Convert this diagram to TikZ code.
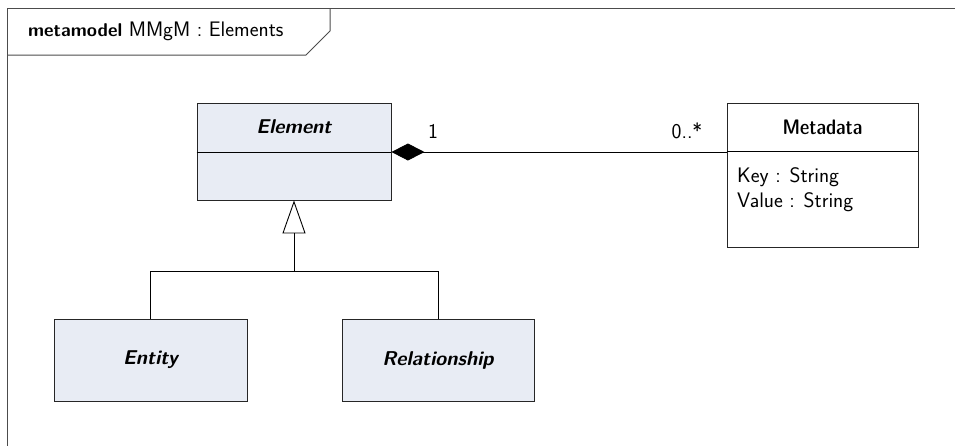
\documentclass[tikz,border=0pt]{standalone}
\usetikzlibrary{arrows.meta}
\begin{document}
\sffamily
\begin{tikzpicture}[x=1pt,y=-1pt,
  every node/.style={inner sep=0pt, font=\fontsize{21}{25}\selectfont\sffamily},
  heavy/.style={font=\fontsize{21}{25}\selectfont\sffamily\fontseries{sbc}\selectfont},
  abstractname/.style={font=\fontsize{20}{24}\selectfont\sffamily\bfseries\itshape},
  classbox/.style={draw=black!85, fill=boxfill, line width=0.9pt},
  plainbox/.style={draw=black!85, fill=white, line width=0.9pt},
  wire/.style={draw=black, line width=0.9pt},
  frameline/.style={draw=black!70, line width=1pt}]
\definecolor{boxfill}{RGB}{232,236,244}
\useasboundingbox (0,0) rectangle (955,445);

% diagram frame with its name tab
\draw[frameline] (960,8) -- (7,8) -- (7,450);
\draw[frameline] (7,55) -- (306,55) -- (330,31) -- (330,8);
\node[anchor=west] (title) at (28,31) {{\fontsize{18.5}{22}\selectfont\bfseries metamodel} MMgM : Elements};

% classes
\node[classbox, minimum width=194pt, minimum height=97pt] (element) at (294,151.5) {};
\draw[wire] (element.west |- 0,152) -- (element.east |- 0,152);
\node[abstractname] (elementname) at (294,127) {Element};

\node[classbox, minimum width=193pt, minimum height=82pt] (entity) at (150.5,360) {};
\node[abstractname] (entityname) at (entity.center) {Entity};

\node[classbox, minimum width=192pt, minimum height=82pt] (relationship) at (438,360) {};
\node[abstractname] (relationshipname) at (relationship.center) {Relationship};

\node[plainbox, minimum width=191pt, minimum height=144pt] (metadata) at (822.5,175) {};
\draw[wire] (metadata.west |- 0,151) -- (metadata.east |- 0,151);
\node[heavy] (metadataname) at (822.5,127) {Metadata};
\node[anchor=base west] (keyattr) at (737,182) {Key : String};
\node[anchor=base west] (valueattr) at (737,207) {Value : String};

% generalisation
\coordinate (joint) at (294,271);
\draw[wire] (entity.north) |- (relationship.north |- joint) -- (relationship.north);
\draw[wire, -{Triangle[open, length=33pt, width=23pt]}] (joint) -- (element.south);

% composition
\draw[wire, {Diamond[length=33pt, width=17pt]}-] (element.east |- 0,152) -- (metadata.west |- 0,152);
\node (mult1) at (433,131) {1};
\node (mult2) at (687,131) {0..*};
\end{tikzpicture}
\end{document}
